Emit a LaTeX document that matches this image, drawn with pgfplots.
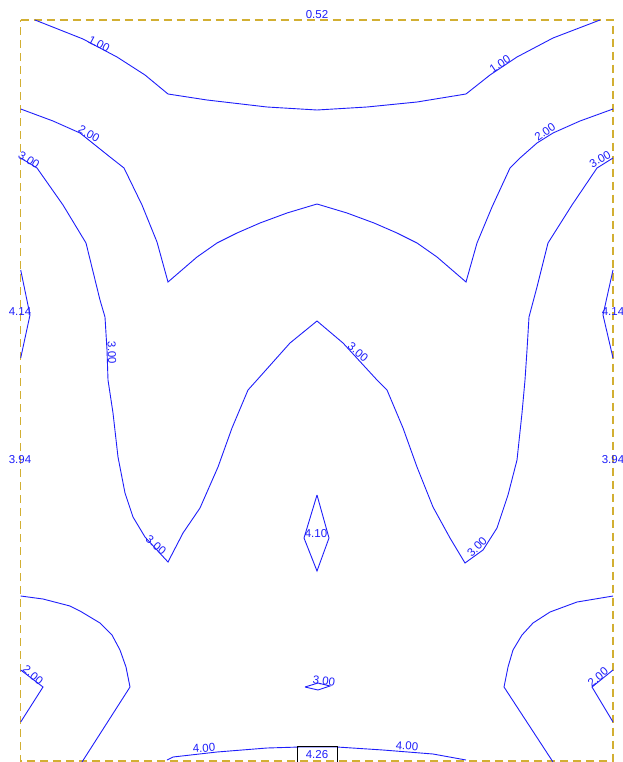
\documentclass[border=0pt]{standalone}
\usepackage{pgfplots}
\pgfplotsset{compat=1.18}
\usepackage{fontspec}
\setmainfont{Liberation Sans}
\definecolor{cblue}{RGB}{30,30,250}
\definecolor{cgold}{RGB}{210,175,50}
\tikzset{cl/.style={cblue, line width=0.9pt, solid, mark=none}}
\begin{document}
\begin{tikzpicture}
\begin{axis}[
  width=622pt, height=762pt, scale only axis,
  xmin=0, xmax=622, ymin=0, ymax=762, y dir=reverse,
  hide axis, clip=false,
]
% frame
\addplot[cgold, line width=1.2pt, dash pattern=on 8pt off 5pt, mark=none] coordinates {(20.7,20) (613,20) (613,761) (20.7,761) (20.7,20)};
% 1.00 top
\addplot[cl] coordinates {(35,20) (83,39) (117,57) (145,75) (168,94) (207,100) (267,107) (317,110) (367,107) (417,102) (466,94) (490,75) (517,57) (553,38) (600,20)};
% 2.00
\addplot[cl] coordinates {(20.7,109) (53,121) (80,133) (110,157) (124,168) (142,205) (157,242) (168,282) (197,257) (217,243) (237,233) (260,223) (287,213) (317,204) (347,213) (374,223) (397,233) (417,243) (437,257) (466,282) (477,243) (492,207) (510,168) (520,158) (537,143) (553,133) (580,121) (613,109)};
% 3.00 big W
\addplot[cl] coordinates {(20.7,158) (37,168) (63,205) (86,243) (100,300) (105,317) (107,350) (108,380) (113,413) (118,457) (125,493) (133,517) (145,537) (168,562) (183,533) (200,508) (218,467) (232,428) (248,390) (257,380) (290,343) (317,321) (343,343) (377,380) (387,390) (403,428) (417,467) (433,507) (450,538) (465,563) (483,550) (497,528) (508,495) (517,460) (522,413) (525,380) (527,350) (529,317) (537,287) (548,243) (572,205) (597,168) (613,158)};
% 4.14 side lobes
\addplot[cl] coordinates {(20.7,270) (30,315) (20.7,358)};
\addplot[cl] coordinates {(613,270) (603,315) (613,358)};
% 4.10 diamond
\addplot[cl] coordinates {(317,495) (329,538) (317,571) (304,538) (317,495)};
% bottom outer curves
\addplot[cl] coordinates {(20.7,596) (43,599) (70,606) (80,611) (100,623) (112,635) (120,650) (126,667) (130,687) (82,762)};
\addplot[cl] coordinates {(613,596) (577,602) (550,612) (533,623) (522,635) (513,650) (508,667) (504,687) (553,762)};
% bottom 2.00
\addplot[cl] coordinates {(20.7,670) (43,687) (20.7,722)};
\addplot[cl] coordinates {(613,670) (592,687) (613,722)};
% small 3.00 lens
\addplot[cl] coordinates {(305,687) (318,683) (330,686) (318,690) (305,687)};
% 4.00 bottom
\addplot[cl] coordinates {(167,760) (173,757) (217,752) (267,748) (300,747) (337,747) (383,750) (433,754) (466,760)};
% 4.26 box
\addplot[black, line width=0.8pt, mark=none] coordinates {(297,762) (297,746) (337,746) (337,762)};
% labels
\begin{scope}[every node/.style={text=cblue, font=\fontsize{11.5}{13}\selectfont, inner sep=0pt}]
\node at (axis cs:317,15) {0.52};
\node[rotate=-28] at (axis cs:99,44) {1.00};
\node[rotate=34] at (axis cs:500,64) {1.00};
\node[rotate=-30] at (axis cs:89,134) {2.00};
\node[rotate=35] at (axis cs:545,132) {2.00};
\node[rotate=-32] at (axis cs:29,160) {3.00};
\node[rotate=30] at (axis cs:600,159) {3.00};
\node[rotate=-88] at (axis cs:112,353) {3.00};
\node[rotate=-40] at (axis cs:358,352) {3.00};
\node[rotate=-40] at (axis cs:156,545) {3.00};
\node[rotate=45] at (axis cs:477,547) {3.00};
\node at (axis cs:20,312) {4.14};
\node at (axis cs:613,312) {4.14};
\node at (axis cs:20,460) {3.94};
\node at (axis cs:613,460) {3.94};
\node at (axis cs:316,534) {4.10};
\node[rotate=-40] at (axis cs:33,675) {2.00};
\node[rotate=40] at (axis cs:598,677) {2.00};
\node[rotate=-8] at (axis cs:324,681) {3.00};
\node[rotate=4] at (axis cs:204,748) {4.00};
\node[rotate=-4] at (axis cs:407,746) {4.00};
\node at (axis cs:317,755) {4.26};
\end{scope}
\end{axis}
\pgfresetboundingbox
\useasboundingbox (0,0) rectangle (622pt,762pt);
\end{tikzpicture}
\end{document}
